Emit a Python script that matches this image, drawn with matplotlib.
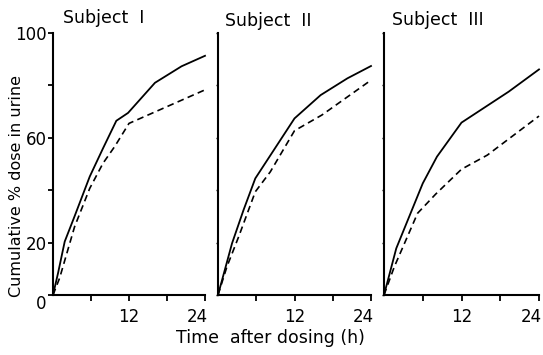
import matplotlib
matplotlib.use("Agg")
import matplotlib.pyplot as plt
from matplotlib.transforms import blended_transform_factory, ScaledTranslation

# ---- data ----
titles = ["Subject  I", "Subject  II", "Subject  III"]

s1_solid_t = [0, 0.8, 1.85, 3.4, 5.8, 7.9, 10.0, 11.85, 16.1, 20.3, 24]
s1_solid_y = [0, 8.4, 20.4, 30, 45.2, 56, 66.5, 69.5, 81, 87.3, 91.3]
s1_dash_t = [0, 1.05, 3.4, 5.8, 7.9, 9.75, 12, 24]
s1_dash_y = [0, 6.5, 26, 40.7, 50.3, 56.7, 65.5, 78.3]

s2_solid_t = [0, 2.2, 4.0, 5.85, 12.0, 16.1, 20.3, 24]
s2_solid_y = [0, 19.7, 32.4, 44.5, 67.4, 76.3, 82.7, 87.4]
s2_dash_t = [0, 1.4, 3.25, 5.85, 8.2, 12.0, 16.3, 24]
s2_dash_y = [0, 10.8, 22.3, 39.4, 47, 62.7, 68.7, 82]

s3_solid_t = [0, 1.9, 6.0, 8.2, 12, 19.3, 24]
s3_solid_y = [0, 17.8, 42.6, 52.8, 65.8, 77.6, 86.1]
s3_dash_t = [0, 1.6, 5.2, 8.0, 12, 16, 24]
s3_dash_y = [0, 10.8, 31.2, 38.5, 48, 53.4, 68.3]

x_ticks = [6, 12, 18, 24]
x_tick_labels = ["", "12", "", "24"]
y_ticks = [0, 20, 40, 60, 80, 100]
y_tick_labels = ["0", "20", "", "60", "", "100"]

xlabel = "Time  after dosing (h)"
ylabel = "Cumulative % dose in urine"

series = [
    (s1_solid_t, s1_solid_y, s1_dash_t, s1_dash_y),
    (s2_solid_t, s2_solid_y, s2_dash_t, s2_dash_y),
    (s3_solid_t, s3_solid_y, s3_dash_t, s3_dash_y),
]

# ---- figure ----
plt.rcParams['font.family'] = ['DejaVu Sans']
W, H = 543, 355
fig = plt.figure(figsize=(W / 100, H / 100), dpi=100)

lefts = [53, 218, 384]
widths = [152, 153, 155]
bottom = (H - 295) / H
height = 262 / H
title_pos = [(63, 18), (225, 21), (392, 20)]

fs = 12
for i, (st, sy, dt, dy) in enumerate(series):
    ax = fig.add_axes([lefts[i] / W, bottom, widths[i] / W, height])
    ax.plot(st, sy, color="black", lw=1.3, clip_on=False, solid_joinstyle="miter")
    ax.plot(dt, dy, color="black", lw=1.2, linestyle=(0, (4, 2.6)), clip_on=False)
    ax.set_xlim(0, 24)
    ax.set_ylim(0, 100)
    for side in ["top", "right"]:
        ax.spines[side].set_visible(False)
    for side in ["left", "bottom"]:
        ax.spines[side].set_linewidth(1.5)
    ax.set_xticks(x_ticks)
    ax.set_xticklabels(x_tick_labels, fontsize=fs)
    ax.tick_params(axis="x", direction="out", length=4, width=1.3, pad=5)
    last = ax.get_xticklabels()[-1]
    last.set_ha("right")
    last.set_transform(last.get_transform() + ScaledTranslation(3 / 100, 0, fig.dpi_scale_trans))
    ax.set_yticks(y_ticks)
    if i == 0:
        ax.set_yticklabels(y_tick_labels, fontsize=fs)
        ax.tick_params(axis="y", direction="out", length=3.5, width=1.3, pad=1)
        lbl0 = ax.get_yticklabels()[0]
        lbl0.set_transform(lbl0.get_transform() + ScaledTranslation(0, -7 / 100, fig.dpi_scale_trans))
    else:
        ax.set_yticklabels([])
        ax.tick_params(axis="y", direction="out", length=1.5, width=1.0)
    tx, ty = title_pos[i]
    fig.text(tx / W, 1 - ty / H, titles[i], ha="left", va="center", fontsize=fs + 0.5)

fig.text(270 / W, 1 - 338 / H, xlabel, ha="center", va="center", fontsize=fs + 0.5)
fig.text(17 / W, 1 - 186 / H, ylabel, ha="center", va="center", rotation=90, fontsize=fs - 0.5)

fig.savefig("out.png", dpi=100)
